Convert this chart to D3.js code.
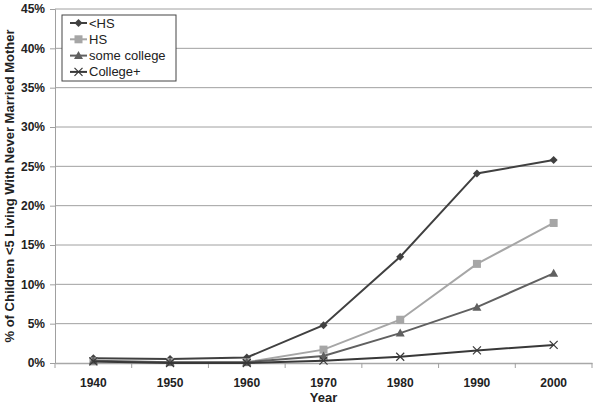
<!DOCTYPE html>
<html><head><meta charset="utf-8">
<script src="https://cdn.jsdelivr.net/npm/d3@7"></script>
<style>body{margin:0;background:#fff}svg{display:block}</style>
</head><body>
<script>
const years = ["1940","1950","1960","1970","1980","1990","2000"];
const lessHS = [0.6,0.5,0.7,4.8,13.5,24.1,25.8];
const hs = [0.2,0.1,0.1,1.7,5.5,12.6,17.8];
const someCollege = [0.3,0.1,0.1,0.9,3.8,7.1,11.4];
const collegePlus = [0.2,0.0,0.0,0.3,0.8,1.6,2.3];
const yTicks = [0,5,10,15,20,25,30,35,40,45];
const seriesNames = ["<HS","HS","some college","College+"];

const series = [
  {name:seriesNames[0], values:lessHS, color:"#404040", marker:"diamond"},
  {name:seriesNames[1], values:hs, color:"#a6a6a6", marker:"square"},
  {name:seriesNames[2], values:someCollege, color:"#606060", marker:"triangle"},
  {name:seriesNames[3], values:collegePlus, color:"#383838", marker:"x"}
];

const W=600,H=408, L=55, R=592, T=9, B=363;
const svg=d3.select("body").append("svg").attr("width",W).attr("height",H);
const x=d3.scaleBand().domain(years).range([L,R]);
const y=d3.scaleLinear().domain([0,45]).range([B,T]);
const font="'Liberation Sans', Arial, sans-serif";

// gridlines
svg.append("g").selectAll("line").data(yTicks.filter(d=>d>0)).join("line")
  .attr("x1",L).attr("x2",R).attr("y1",d=>y(d)).attr("y2",d=>y(d))
  .attr("stroke","#a0a0a0").attr("stroke-width",1);

// y axis
const ya=svg.append("g").attr("transform",`translate(${L},0)`)
  .call(d3.axisLeft(y).tickValues(yTicks).tickFormat(d=>d+"%").tickSize(5).tickPadding(5));
ya.select(".domain").attr("stroke","#a0a0a0");
ya.selectAll(".tick line").attr("stroke","#a0a0a0");
ya.selectAll("text").attr("font-family",font).attr("font-weight","bold").attr("font-size",12).attr("fill","#222");

// x axis
const xa=svg.append("g").attr("transform",`translate(0,${B})`)
  .call(d3.axisBottom(x).tickSize(0).tickPadding(15));
xa.select(".domain").attr("stroke","#a8a8a8").attr("stroke-width",1.5);
xa.selectAll("text").attr("font-family",font).attr("font-weight","bold").attr("font-size",12).attr("fill","#222");
const bounds=[...years.map(d=>x(d)), R];
xa.selectAll(".btick").data(bounds).join("line").attr("class","btick")
  .attr("x1",d=>d).attr("x2",d=>d).attr("y1",0).attr("y2",5).attr("stroke","#a0a0a0");

// titles
svg.append("text").attr("x",(L+R)/2).attr("y",402).attr("text-anchor","middle")
  .attr("font-family",font).attr("font-weight","bold").attr("font-size",13).attr("fill","#222").text("Year");
svg.append("text").attr("transform",`translate(14,${(T+B)/2}) rotate(-90)`).attr("text-anchor","middle")
  .attr("font-family",font).attr("font-weight","bold").attr("font-size",13).attr("fill","#222")
  .text("% of Children <5 Living With Never Married Mother");

function drawMarker(g,type,color,cx,cy){
  if(type==="diamond"){
    g.append("path").attr("d",`M${cx},${cy-4}L${cx+4},${cy}L${cx},${cy+4}L${cx-4},${cy}Z`).attr("fill",color);
  } else if(type==="square"){
    g.append("rect").attr("x",cx-4).attr("y",cy-4).attr("width",8).attr("height",8).attr("fill",color);
  } else if(type==="triangle"){
    g.append("path").attr("d",`M${cx},${cy-4.5}L${cx+4.5},${cy+3.5}L${cx-4.5},${cy+3.5}Z`).attr("fill",color);
  } else {
    g.append("path").attr("d",`M${cx-4},${cy-4}L${cx+4},${cy+4}M${cx-4},${cy+4}L${cx+4},${cy-4}`).attr("stroke",color).attr("stroke-width",1.2);
  }
}

const line=d3.line().x((d,i)=>x(years[i])+x.bandwidth()/2).y(d=>y(d));
series.forEach(s=>{
  const g=svg.append("g");
  g.append("path").attr("d",line(s.values)).attr("fill","none").attr("stroke",s.color).attr("stroke-width",2);
  s.values.forEach((v,i)=>drawMarker(g,s.marker,s.color,x(years[i])+x.bandwidth()/2,y(v)));
});

// legend
const lg=svg.append("g");
lg.append("rect").attr("x",62).attr("y",15).attr("width",114).attr("height",66)
  .attr("fill","#fff").attr("stroke","#444").attr("stroke-width",1);
series.forEach((s,i)=>{
  const cy=23+i*16.3;
  lg.append("line").attr("x1",70).attr("x2",87).attr("y1",cy).attr("y2",cy).attr("stroke",s.color).attr("stroke-width",2);
  drawMarker(lg,s.marker,s.color,78.5,cy);
  lg.append("text").attr("x",89).attr("y",cy+4.5).attr("font-family",font).attr("font-size",13).attr("fill","#222").text(s.name);
});
</script>
</body></html>
